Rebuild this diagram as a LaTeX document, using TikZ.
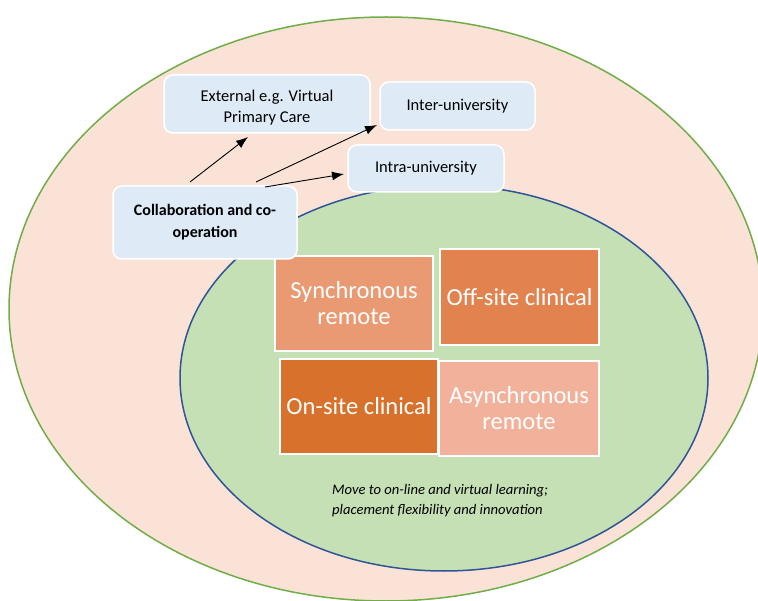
\documentclass[tikz,border=0pt]{standalone}
\usepackage{fontspec}
\setmainfont{Carlito}
\usetikzlibrary{arrows.meta}
\definecolor{outerfill}{HTML}{FAE3D6}
\definecolor{outerline}{HTML}{70AD47}
\definecolor{innerfill}{HTML}{C5E0B4}
\definecolor{innerline}{HTML}{2F5597}
\definecolor{bluebox}{HTML}{DEEBF7}
\definecolor{syncc}{HTML}{EA9A72}
\definecolor{offc}{HTML}{E1824F}
\definecolor{onc}{HTML}{D8712C}
\definecolor{asyncc}{HTML}{F2B19A}
\tikzset{
  bbox/.style={fill=bluebox,draw=white,line width=1.5pt,rounded corners=9pt,align=center,
    font=\fontsize{16.5}{21}\selectfont,text=black,inner sep=0pt},
  obox/.style={draw=white,line width=1.5pt,align=center,text=white,
    font=\fontsize{24.5}{26}\selectfont,inner sep=0pt},
  arr/.style={-{Latex[length=12pt,width=9pt]},line width=0.9pt,black}
}
\begin{document}
\begin{tikzpicture}[x=1pt,y=-1pt]
\useasboundingbox (0,0) rectangle (758,601);
\begin{scope}
\clip (0,0) rectangle (758,601);
\draw[fill=outerfill,draw=outerline,line width=1.5pt] (386,309) ellipse [x radius=377,y radius=292];
\draw[fill=innerfill,draw=innerline,line width=1.5pt] (444,378) ellipse [x radius=264,y radius=193];
\end{scope}
% orange boxes
\node[obox,fill=syncc,minimum width=158pt,minimum height=95pt] (sync) at (354,303.5) {Synchronous\\remote};
\node[obox,fill=offc,minimum width=159pt,minimum height=96pt] (off) at (519.5,297) {Off-site clinical};
\node[obox,fill=onc,minimum width=158pt,minimum height=95pt] (on) at (359,406.5) {On-site clinical};
\node[obox,fill=asyncc,minimum width=160pt,minimum height=95pt] (async) at (519,408.5) {Asynchronous\\remote};
% blue boxes
\node[bbox,minimum width=206pt,minimum height=58pt] (ext) at (267,104) {\raisebox{-4pt}[\height][\depth]{\begin{tabular}{@{}c@{}}External e.g. Virtual\\[-0.5pt]Primary Care\end{tabular}}};
\node[bbox,minimum width=155pt,minimum height=48pt] (inter) at (457.5,106) {Inter-university};
\node[bbox,minimum width=156pt,minimum height=47pt] (intra) at (426,168.5) {Intra-university};
\node[bbox,minimum width=184pt,minimum height=73pt,font=\fontsize{16}{22}\selectfont\bfseries] (collab) at (205,222.5) {Collaboration and co-\\operation};
% caption
\node[align=left,font=\fontsize{14.6}{20}\selectfont\itshape,anchor=north west,inner sep=0pt] (cap) at (332,484) {Move to on-line and virtual learning;\\placement flexibility and innovation};
% arrows
\coordinate (s1) at (190,182);
\coordinate (s2) at (256,182);
\coordinate (s3) at (265,187);
\coordinate (e1) at (248,137);
\coordinate (e2) at (377,125);
\coordinate (e3) at (344,174);
\draw[arr] (s1) -- (e1);
\draw[arr] (s2) -- (e2);
\draw[arr] (s3) -- (e3);
\end{tikzpicture}
\end{document}
